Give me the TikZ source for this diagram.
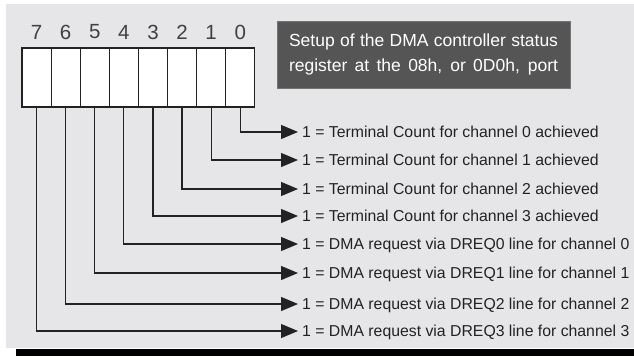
\documentclass[tikz,border=0pt]{standalone}
\usepackage{fontspec}
\setmainfont{Liberation Sans}
\usetikzlibrary{arrows.meta}
\definecolor{panel}{HTML}{E6E6E8}
\definecolor{boxgray}{HTML}{555555}
\definecolor{ink}{HTML}{222222}
\begin{document}
\begin{tikzpicture}[x=1bp,y=-1bp,
  cell/.style={draw=ink, line width=1.2bp, fill=white, minimum width=29.1bp, minimum height=59bp, inner sep=0, outer sep=0, anchor=north west},
  bitnum/.style={font=\fontsize{20.5bp}{21bp}\selectfont, text=black!75, inner sep=0},
  lbl/.style={font=\fontsize{15.8bp}{16bp}\selectfont, text=ink, anchor=west, inner xsep=0, inner ysep=0, text height=11bp, text depth=0bp},
  conn/.style={draw=ink, line width=1.2bp, -{Triangle[length=17bp,width=14bp]}, shorten >=4bp},
  titlebox/.style={fill=boxgray, draw=black!55, line width=0.8bp, minimum width=293bp, minimum height=67bp, inner sep=0, text=white, align=center, font=\fontsize{17.5bp}{25bp}\selectfont}
]
\useasboundingbox (0,0) rectangle (634,356);
\fill[white] (0,0) rectangle (634,356);
\fill[panel] (6,4) rectangle (634,348);
\fill[black] (16,349) rectangle (634,356);

% register cells
\node[cell] (c7) at (22,48) {};
\node[cell] (c6) at (51.1,48) {};
\node[cell] (c5) at (80.2,48) {};
\node[cell] (c4) at (109.3,48) {};
\node[cell] (c3) at (138.4,48) {};
\node[cell] (c2) at (167.5,48) {};
\node[cell] (c1) at (196.6,48) {};
\node[cell] (c0) at (225.7,48) {};

% bit numbers
\foreach \b in {0,...,7} {
  \node[bitnum] (n\b) at (c\b.north |- 0,32) {\b};
}

% title box
\node[titlebox] (title) at (423.5,54.5) {\makebox[269bp][s]{Setup of the DMA controller status}\\\makebox[269bp][s]{register at the 08h, or 0D0h, port}};

% labels
\node[lbl] (t0) at (302,132) {1 = Terminal Count for channel 0 achieved};
\node[lbl] (t1) at (302,160) {1 = Terminal Count for channel 1 achieved};
\node[lbl] (t2) at (302,189) {1 = Terminal Count for channel 2 achieved};
\node[lbl] (t3) at (302,216) {1 = Terminal Count for channel 3 achieved};
\node[lbl] (t4) at (302,244) {1 = DMA request via DREQ0 line for channel 0};
\node[lbl] (t5) at (302,273) {1 = DMA request via DREQ1 line for channel 1};
\node[lbl] (t6) at (302,304) {1 = DMA request via DREQ2 line for channel 2};
\node[lbl] (t7) at (302,331) {1 = DMA request via DREQ3 line for channel 3};

% connectors
\foreach \b in {0,...,7} {
  \draw[conn] (c\b.south) |- (t\b.west);
}
\end{tikzpicture}
\end{document}
